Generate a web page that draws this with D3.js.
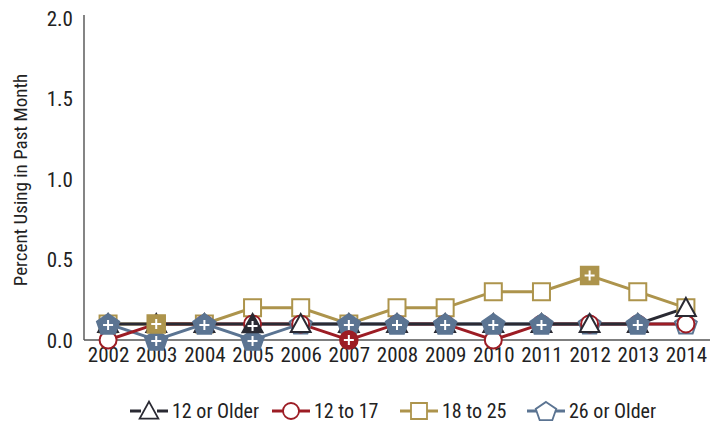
<!DOCTYPE html>
<html><head><meta charset="utf-8">
<script src="https://cdn.jsdelivr.net/npm/d3@7"></script>
<style>body{margin:0;background:#fff}svg{display:block}text{font-family:"Liberation Sans Narrow","Roboto Condensed","Arial Narrow",sans-serif;fill:#222}</style>
</head><body><svg id="c" width="717" height="423"></svg>
<script>
const years = ["2002","2003","2004","2005","2006","2007","2008","2009","2010","2011","2012","2013","2014"];
const yTicks = [0,0.5,1.0,1.5,2.0];
const older12 = [0.1,0.1,0.1,0.1,0.1,0.1,0.1,0.1,0.1,0.1,0.1,0.1,0.2];
const age12to17 = [0.0,0.1,0.1,0.1,0.1,0.0,0.1,0.1,0.0,0.1,0.1,0.1,0.1];
const age18to25 = [0.1,0.1,0.1,0.2,0.2,0.1,0.2,0.2,0.3,0.3,0.4,0.3,0.2];
const older26 = [0.1,0.0,0.1,0.0,0.1,0.1,0.1,0.1,0.1,0.1,0.1,0.1,0.1];
// significance flags (filled marker with plus)
const sigOlder12 = ["2005"];
const sig12to17 = ["2007"];
const sig18to25 = ["2003","2012"];
const sigOlder26 = ["2002","2003","2004","2005","2007","2008","2009","2010","2011","2013"];
const seriesNames = ["12 or Older","12 to 17","18 to 25","26 or Older"];

const series = [
  {name:seriesNames[0], vals:older12, sig:sigOlder12, color:"#2a2a33", shape:"tri"},
  {name:seriesNames[1], vals:age12to17, sig:sig12to17, color:"#9c1c24", shape:"circ"},
  {name:seriesNames[2], vals:age18to25, sig:sig18to25, color:"#ad944c", shape:"sq"},
  {name:seriesNames[3], vals:older26, sig:sigOlder26, color:"#5b7492", shape:"pent"}
];

const svg = d3.select("#c");
const x = d3.scalePoint().domain(years).range([84,710]).padding(0.5);
const y = d3.scaleLinear().domain([0,2]).range([340,18]);

// axes
const ya = svg.append("g").attr("transform","translate(84,0)")
  .call(d3.axisLeft(y).tickValues(yTicks).tickFormat(d3.format(".1f")).tickSize(0).tickPadding(11));
ya.select(".domain").attr("stroke","#333").attr("stroke-width",1.2).attr("d","M0,15V340");
ya.selectAll("text").style("font-size","21px").attr("fill","#222").attr("dy","0.35em");
const xa = svg.append("g").attr("transform","translate(0,340)")
  .call(d3.axisBottom(x).tickSize(0).tickPadding(7));
xa.select(".domain").attr("stroke","#555").attr("stroke-width",1.5).attr("d","M84,0H710");
xa.selectAll("text").style("font-size","21px").attr("fill","#222");

svg.append("text").attr("transform","translate(27,180) rotate(-90)").attr("text-anchor","middle")
  .style("font-size","19px").text("Percent Using in Past Month");

function shapePath(shape, s){
  if(shape==="tri") return `M0,${-s*0.55}L${s*0.55},${s*0.45}L${-s*0.55},${s*0.45}Z`;
  if(shape==="sq") return `M${-s/2},${-s/2}H${s/2}V${s/2}H${-s/2}Z`;
  if(shape==="circ") return d3.symbol().type(d3.symbolCircle).size(Math.PI*(s/2)*(s/2))();
  if(shape==="pent"){
    const pts=[]; for(let i=0;i<5;i++){const a=-Math.PI/2+i*2*Math.PI/5; pts.push([Math.cos(a)*s*0.6, Math.sin(a)*s*0.56+1]);}
    return "M"+pts.map(p=>p.join(",")).join("L")+"Z";
  }
}
const sizes = {tri:18, sq:17, circ:17, pent:19};

const line = d3.line().x((d,i)=>x(years[i])).y(d=>y(d));
// lines, drawn back to front
[3,2,1,0].forEach(k=>{
  const s=series[k];
  svg.append("path").datum(s.vals).attr("d",line).attr("fill","none").attr("stroke",s.color).attr("stroke-width",3);
});
// open markers
[3,2,1,0].forEach(k=>{
  const s=series[k];
  years.forEach((yr,i)=>{
    if(s.sig.includes(yr)) return;
    svg.append("path").attr("d",shapePath(s.shape,sizes[s.shape]))
      .attr("transform",`translate(${x(yr)},${y(s.vals[i])})`)
      .attr("fill","#fff").attr("stroke",s.color).attr("stroke-width",2);
  });
});
// significant markers
[3,2,1,0].forEach(k=>{
  const s=series[k];
  years.forEach((yr,i)=>{
    if(!s.sig.includes(yr)) return;
    const g=svg.append("g").attr("transform",`translate(${x(yr)},${y(s.vals[i])})`);
    g.append("path").attr("d",shapePath(s.shape,sizes[s.shape]+1)).attr("fill",s.color).attr("stroke",s.color).attr("stroke-width",1.5);
    const oy = s.shape==="tri"?2:(s.shape==="pent"?1:0);
    g.append("path").attr("d",`M-5,${oy}H5M0,${oy-5}V${oy+5}`).attr("stroke","#fff").attr("stroke-width",2);
  });
});

// legend
const legX=[130,272,400,527];
series.forEach((s,k)=>{
  const g=svg.append("g").attr("transform",`translate(${legX[k]},411)`);
  g.append("path").attr("d","M0,0H11M27,0H38").attr("stroke",s.color).attr("stroke-width",3);
  g.append("path").attr("d",shapePath(s.shape,sizes[s.shape]-1)).attr("transform","translate(19,0)")
    .attr("fill","#fff").attr("stroke",s.color).attr("stroke-width",1.8);
  g.append("text").attr("x",42).attr("y",0).attr("dy","0.35em").style("font-size","20px").text(s.name);
});
</script></body></html>
